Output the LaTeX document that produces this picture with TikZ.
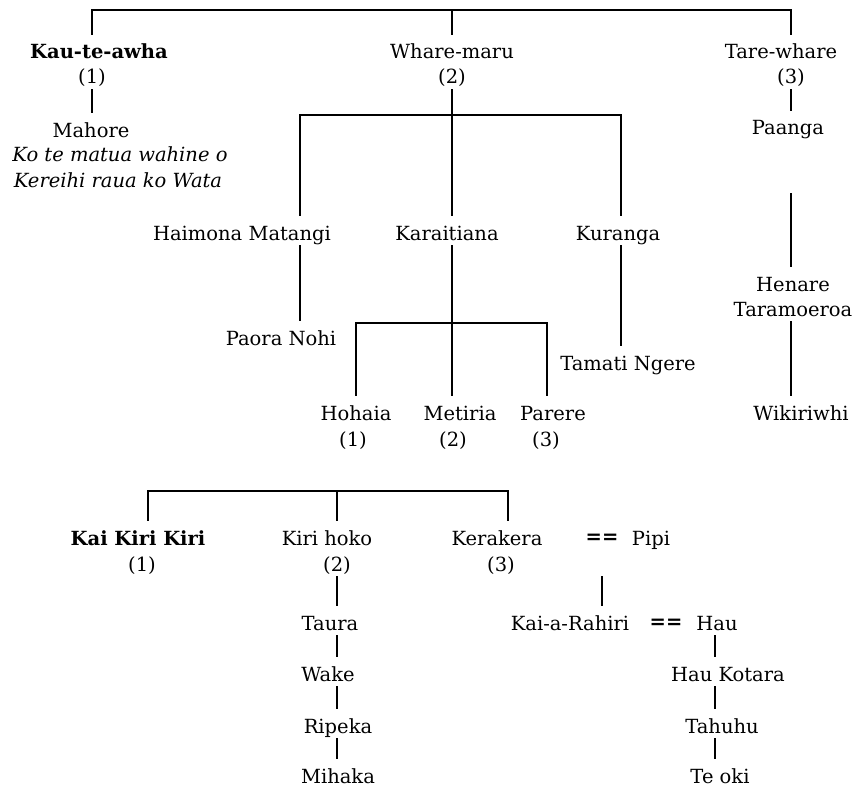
\documentclass[tikz,border=0pt]{standalone}
\usepackage{fontspec}
\setmainfont{DejaVu Serif}
\newfontfamily\eqfont{DejaVu Sans}
\newcommand\mysz{\fontsize{19.5}{24}\selectfont}
\begin{document}
\begin{tikzpicture}[x=1pt,y=-1pt,
  lbl/.style={anchor=base,inner sep=0pt,text height=24pt,text depth=5pt,font=\mysz},
  lblb/.style={lbl,font=\mysz\bfseries},
  lbli/.style={lbl,font=\mysz\itshape},
  eqs/.style={lbl,font=\mysz\eqfont\bfseries},
  ln/.style={line width=2.7pt}]
\useasboundingbox (0,0) rectangle (856,789);
% top generation
\node[lblb] (kau) at (99,59) {Kau-te-awha};
\node[lbl] (kau1) at (92,84) {(1)};
\node[lbl] (wm) at (452,59) {Whare-maru};
\node[lbl] (wm2) at (452,84) {(2)};
\node[lbl] (tw) at (781,59) {Tare-whare};
\node[lbl] (tw3) at (791,84) {(3)};
\node[lbl] (mah) at (91,137) {Mahore};
\node[lbli] (note1) at (120,161) {Ko te matua wahine o};
\node[lbli] (note2) at (118,187) {Kereihi raua ko Wata};
\node[lbl] (paa) at (788,135) {Paanga};
% second generation
\node[lbl] (hm) at (242,240) {Haimona Matangi};
\node[lbl] (kara) at (447,240) {Karaitiana};
\node[lbl] (kur) at (618,240) {Kuranga};
\node[lbl] (pn) at (281,345) {Paora Nohi};
\node[lbl] (tam) at (628,370) {Tamati Ngere};
\node[lbl] (hen) at (793,291) {Henare};
\node[lbl] (tar) at (793,316) {Taramoeroa};
\node[lbl] (hoh) at (356,420) {Hohaia};
\node[lbl] (hoh1) at (353,446) {(1)};
\node[lbl] (met) at (460,420) {Metiria};
\node[lbl] (met2) at (453,446) {(2)};
\node[lbl] (par) at (553,420) {Parere};
\node[lbl] (par3) at (546,446) {(3)};
\node[lbl] (wik) at (801,420) {Wikiriwhi};
% lower chart
\node[lblb] (kkk) at (138,545) {Kai Kiri Kiri};
\node[lbl] (kkk1) at (142,571) {(1)};
\node[lbl] (kh) at (327,545) {Kiri hoko};
\node[lbl] (kh2) at (337,571) {(2)};
\node[lbl] (ker) at (497,545) {Kerakera};
\node[lbl] (ker3) at (501,571) {(3)};
\node[eqs] (eq1) at (602,543) {==};
\node[lbl] (pip) at (651,545) {Pipi};
\node[lbl] (kai) at (570,630) {Kai-a-Rahiri};
\node[eqs] (eq2) at (666,628) {==};
\node[lbl] (hau) at (717,630) {Hau};
\node[lbl] (tau) at (330,630) {Taura};
\node[lbl] (wak) at (328,681) {Wake};
\node[lbl] (rip) at (338,733) {Ripeka};
\node[lbl] (mih) at (338,783) {Mihaka};
\node[lbl] (hk) at (728,681) {Hau Kotara};
\node[lbl] (tah) at (722,733) {Tahuhu};
\node[lbl] (teo) at (720,783) {Te oki};
% connectors
\coordinate (t1) at (92,10);
\coordinate (t2) at (452,10);
\coordinate (t3) at (791,10);
\draw[ln] (t1 |- kau.north) -- (t1) -- (t3) -- (t3 |- tw.north);
\draw[ln] (t2) -- (t2 |- wm.north);
\draw[ln] (kau1.south) -- (kau1.south |- mah.north);
\draw[ln] (wm2.south) -- (wm2.south |- kara.north);
\draw[ln] (tw3.south) -- (tw3.south |- paa.north);
\coordinate (b2l) at (300,115);
\coordinate (b2r) at (621,115);
\draw[ln] (b2l |- hm.north) -- (b2l) -- (b2r) -- (b2r |- kur.north);
\draw[ln] (b2l |- hm.south) -- (b2l |- pn.north);
\draw[ln] (wm2.south |- kara.south) -- (wm2.south |- met.north);
\draw[ln] (b2r |- kur.south) -- (b2r |- tam.north);
\coordinate (pl) at (791,193);
\draw[ln] (pl) -- (pl |- hen.north);
\draw[ln] (pl |- tar.south) -- (pl |- wik.north);
\coordinate (b3l) at (356,323);
\coordinate (b3r) at (547,323);
\draw[ln] (b3l |- hoh.north) -- (b3l) -- (b3r) -- (b3r |- par.north);
\coordinate (b4l) at (148,491);
\coordinate (b4m) at (337,491);
\coordinate (b4r) at (508,491);
\draw[ln] (b4l |- kkk.north) -- (b4l) -- (b4r) -- (b4r |- ker.north);
\draw[ln] (b4m) -- (b4m |- kh.north);
\draw[ln] (kh2.south) -- (kh2.south |- tau.north);
\draw[ln] (b4m |- tau.south) -- (b4m |- wak.north);
\draw[ln] (b4m |- wak.south) -- (b4m |- rip.north);
\draw[ln] (b4m |- rip.south) -- (b4m |- mih.north);
\coordinate (eqd) at (602,576);
\draw[ln] (eqd) -- (eqd |- kai.north);
\coordinate (hx) at (715,0);
\draw[ln] (hx |- hau.south) -- (hx |- hk.north);
\draw[ln] (hx |- hk.south) -- (hx |- tah.north);
\draw[ln] (hx |- tah.south) -- (hx |- teo.north);
\end{tikzpicture}
\end{document}
